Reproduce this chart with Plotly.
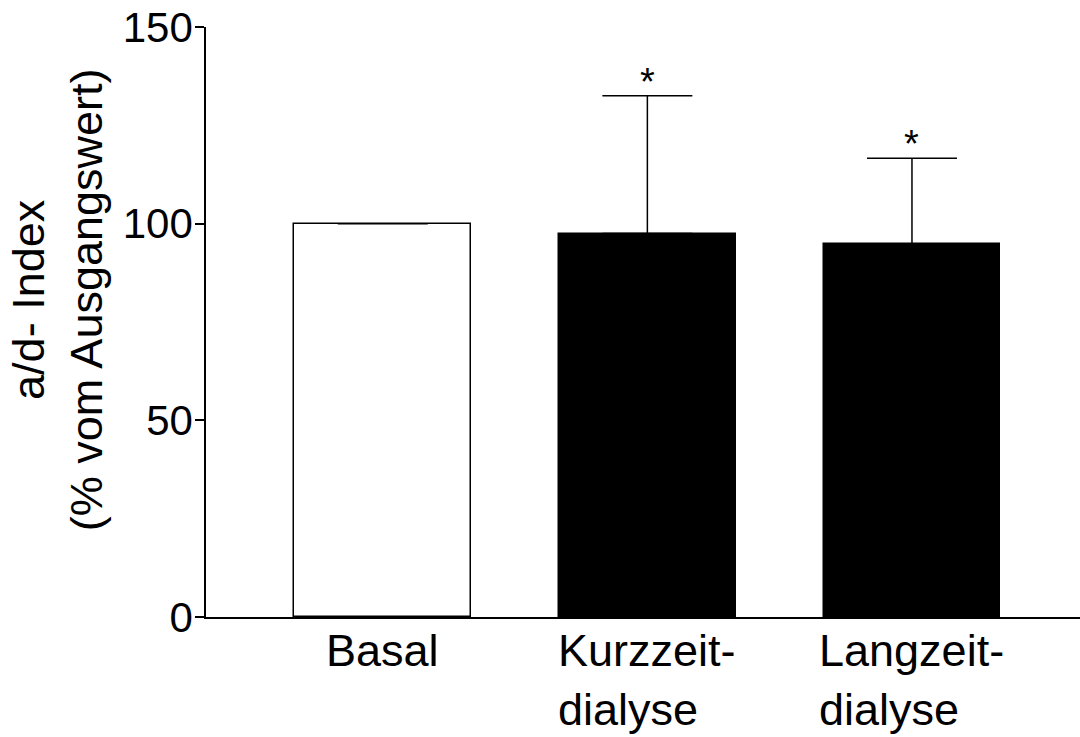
import plotly.graph_objects as go

categories = ["Basal", "Kurzzeit-<br>dialyse", "Langzeit-<br>dialyse"]
means = [100.0, 97.5, 94.8]
sem_upper = [0.0, 35.0, 21.8]
significant = [False, True, True]
bar_colors = ["white", "black", "black"]
y_ticks = [0, 50, 100, 150]

FONT = "Liberation Sans, Arial, Helvetica, sans-serif"
xpos = list(range(len(categories)))

fig = go.Figure()
fig.add_trace(go.Bar(
    x=xpos, y=means, width=0.668,
    marker=dict(color=bar_colors, line=dict(color="black", width=1.5)),
    error_y=dict(type="data", symmetric=False, array=sem_upper,
                 arrayminus=[0] * len(means), visible=True,
                 color="black", thickness=1.5, width=45),
    showlegend=False, hoverinfo="skip",
))

annotations = []
for i, cat in enumerate(categories):
    annotations.append(dict(
        x=xpos[i], y=0, xref="x", yref="y", text=cat, showarrow=False,
        xanchor="center", yanchor="top", align="left", yshift=-6,
        font=dict(family=FONT, size=45, color="black"),
    ))
    if significant[i]:
        annotations.append(dict(
            x=xpos[i], y=means[i] + sem_upper[i], xref="x", yref="y",
            text="*", showarrow=False, xanchor="center", yanchor="bottom",
            yshift=-9, font=dict(family=FONT, size=38, color="black"),
        ))

annotations.append(dict(
    x=0, y=0.537, xref="paper", yref="paper", xshift=-148,
    text="a/d- Index<br>(% vom Ausgangswert)", textangle=-90,
    showarrow=False, xanchor="center", yanchor="middle", align="center",
    font=dict(family=FONT, size=45, color="black"),
))

fig.update_layout(
    width=1080, height=737,
    margin=dict(l=206, r=0, t=27, b=120, autoexpand=False),
    paper_bgcolor="white", plot_bgcolor="white",
    font=dict(family=FONT, size=45, color="black"),
    bargap=0,
    xaxis=dict(range=[-0.668, 2.635], showticklabels=False, ticks="",
               showgrid=False, zeroline=False, showline=True,
               linecolor="black", linewidth=1.5, fixedrange=True,
               automargin=False),
    yaxis=dict(range=[0, 150], tickvals=y_ticks, ticks="outside",
               ticklen=9, tickwidth=1.5, tickcolor="black",
               ticklabelstandoff=-6,
               showgrid=False, zeroline=False, showline=True,
               linecolor="black", linewidth=1.5, automargin=False,
               tickfont=dict(family=FONT, size=42, color="black")),
    annotations=annotations,
)

fig.write_html(
    "out.html",
    config={"displayModeBar": False},
    post_script="document.body.style.margin='0';document.body.style.overflow='hidden';",
)
